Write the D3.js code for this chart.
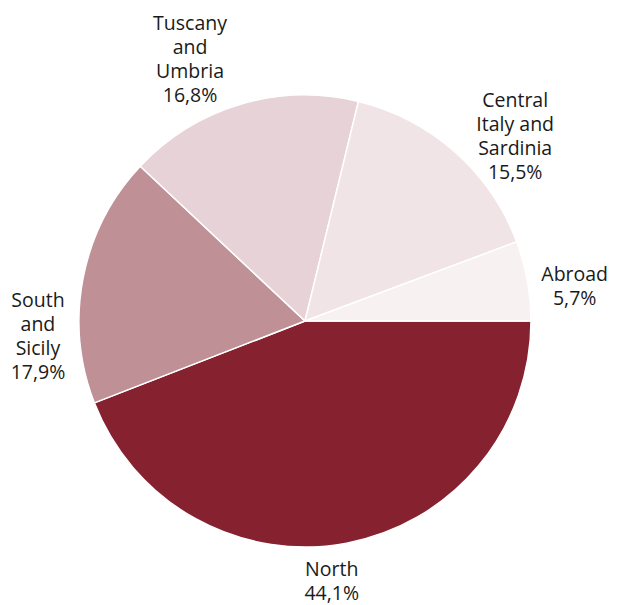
<!DOCTYPE html>
<html>
<head>
<meta charset="utf-8">
<script src="https://cdn.jsdelivr.net/npm/d3@7"></script>
<style>
  html, body { margin: 0; padding: 0; background: #ffffff; }
  svg { display: block; }
  text { font-family: "Open Sans", "Noto Sans", sans-serif; fill: #1a1a1a; }
</style>
</head>
<body>
<svg id="chart" width="617" height="605"></svg>
<script>
// Regions and their shares (%)
const regions = ["North", "South and Sicily", "Tuscany and Umbria", "Central Italy and Sardinia", "Abroad"];
const shares = [44.1, 17.9, 16.8, 15.5, 5.7];
// Label lines for each region
const labelLines = [
  ["North"],
  ["South", "and", "Sicily"],
  ["Tuscany", "and", "Umbria"],
  ["Central", "Italy and", "Sardinia"],
  ["Abroad"]
];
const fills = ["#86212f", "#c09097", "#e6d2d7", "#f0e4e7", "#f8f1f2"];

// Small nudges that tidy each label block away from the rim
const labelNudge = [[-23, -5], [-2, 66], [-38, -3], [31, 17], [4, 13]];

const width = 617, height = 605;
const cx = 305, cy = 321, radius = 226;
const labelRadius = 270;
const fontSize = 19.5, lineGap = 24, capH = 14;

const svg = d3.select("#chart");
const g = svg.append("g").attr("transform", `translate(${cx},${cy})`);

const data = regions.map((r, i) => ({ region: r, value: shares[i], lines: labelLines[i], i }));

const pie = d3.pie()
  .value(d => d.value)
  .sort(null)
  .startAngle(Math.PI / 2)
  .endAngle(Math.PI / 2 + 2 * Math.PI);

const arcs = pie(data);
const arc = d3.arc().innerRadius(0).outerRadius(radius);
const labelArc = d3.arc().innerRadius(labelRadius).outerRadius(labelRadius);

g.selectAll("path.slice")
  .data(arcs)
  .join("path")
  .attr("class", "slice")
  .attr("d", arc)
  .attr("fill", d => fills[d.data.i])
  .attr("stroke", "#ffffff")
  .attr("stroke-width", 1.5)
  .attr("stroke-linejoin", "round");

const fmt = v => d3.format(".1f")(v).replace(".", ",") + "%";

// One text element per label line
arcs.forEach(d => {
  const [x0, y0] = labelArc.centroid(d);
  const [nx, ny] = labelNudge[d.data.i];
  const lx = x0 + nx, ly = y0 + ny;
  const lines = d.data.lines.concat([fmt(d.data.value)]);
  const blockH = capH + lineGap * (lines.length - 1);
  const firstBase = ly - blockH / 2 + capH;
  g.append("g")
    .attr("class", "label")
    .selectAll("text")
    .data(lines)
    .join("text")
    .attr("text-anchor", "middle")
    .attr("font-size", fontSize)
    .attr("x", lx)
    .attr("y", (t, k) => firstBase + k * lineGap)
    .text(t => t);
});
</script>
</body>
</html>
